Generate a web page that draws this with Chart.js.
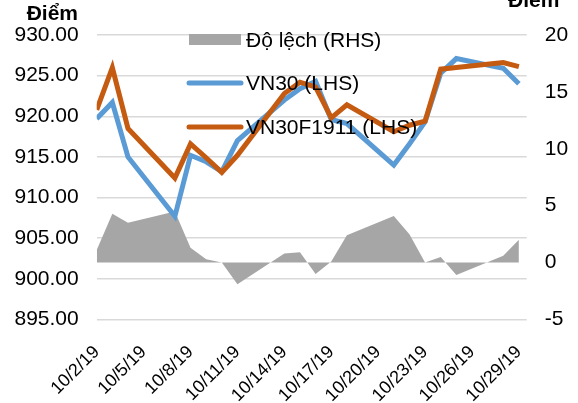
<!DOCTYPE html>
<html>
<head>
<meta charset="utf-8">
<script src="https://cdn.jsdelivr.net/npm/chart.js@4"></script>
<style>
  body { margin: 0; background: #fff; }
  canvas { display: block; }
</style>
</head>
<body>
<canvas id="chart" width="578" height="403"></canvas>
<script>
const dates = ['10/2/19', '10/3/19', '10/4/19', '10/7/19', '10/8/19', '10/9/19', '10/10/19', '10/11/19',
    '10/14/19', '10/15/19', '10/16/19', '10/17/19', '10/18/19', '10/21/19', '10/22/19', '10/23/19',
    '10/24/19', '10/25/19', '10/28/19', '10/29/19'];
const vn30 = [919.7, 921.7, 915.0, 907.7, 915.2, 914.4, 913.2, 917.0, 922.0, 923.4,
    924.3, 919.6, 919.1, 914.0, 916.6, 919.3, 925.3, 927.1, 925.9, 924.0];
const vn30f1911 = [920.8, 926.0, 918.5, 912.4, 916.6, 914.9, 913.1, 915.2, 922.8, 924.2,
    923.6, 919.8, 921.4, 918.1, 918.9, 919.4, 925.8, 926.0, 926.6, 926.1];
const doLech = [1.1, 4.3, 3.5, 4.5, 1.3, 0.3, 0.0, -1.9, 0.8, 0.9,
    -1.0, 0.1, 2.4, 4.1, 2.5, 0.0, 0.5, -1.1, 0.6, 2.0];
const tickLabels = ['10/2/19', '10/5/19', '10/8/19', '10/11/19', '10/14/19', '10/17/19',
    '10/20/19', '10/23/19', '10/26/19', '10/29/19'];

const day = s => parseInt(s.split('/')[1], 10);
const pts = arr => arr.map((v, i) => ({ x: day(dates[i]), y: v }));

const FONT = '"Liberation Sans", Arial, sans-serif';
Chart.defaults.font.family = FONT;
Chart.defaults.font.size = 21;
Chart.defaults.color = '#000';

const overlay = {
    id: 'overlay',
    afterDatasetsDraw(chart) {
        const ctx = chart.ctx;
        ctx.save();
        ctx.font = 'bold 21px ' + FONT;
        ctx.fillStyle = '#000';
        ctx.textBaseline = 'alphabetic';
        ctx.textAlign = 'right';
        ctx.fillText('Điểm', 78, 20);
        ctx.textAlign = 'left';
        ctx.fillText('Điểm', 508, 7);

        // legend: Độ lệch, VN30, VN30F1911
        const ds = chart.data.datasets;
        const rows = [40, 83, 127];
        const order = [2, 1, 0];
        ctx.font = '21px ' + FONT;
        ctx.textBaseline = 'middle';
        order.forEach((di, r) => {
            const d = ds[di];
            const y = rows[r];
            if (d.fill) {
                ctx.fillStyle = d.backgroundColor;
                ctx.fillRect(189, y - 6, 52, 11);
            } else {
                ctx.strokeStyle = d.borderColor;
                ctx.lineWidth = 5;
                ctx.lineCap = 'round';
                ctx.beginPath();
                ctx.moveTo(189, y);
                ctx.lineTo(241, y);
                ctx.stroke();
            }
            ctx.fillStyle = '#000';
            ctx.fillText(d.label, 246, y + 1);
        });
        ctx.restore();
    }
};

new Chart(document.getElementById('chart'), {
    type: 'line',
    data: {
        datasets: [
            {
                label: 'VN30F1911 (LHS)',
                data: pts(vn30f1911),
                borderColor: '#c55a11',
                borderWidth: 5,
                pointRadius: 0,
                yAxisID: 'y',
                order: 0
            },
            {
                label: 'VN30 (LHS)',
                data: pts(vn30),
                borderColor: '#5b9bd5',
                borderWidth: 5,
                pointRadius: 0,
                yAxisID: 'y',
                order: 1
            },
            {
                label: 'Độ lệch (RHS)',
                data: pts(doLech),
                borderWidth: 0,
                borderColor: 'rgba(0,0,0,0)',
                backgroundColor: '#a6a6a6',
                fill: 'origin',
                pointRadius: 0,
                yAxisID: 'y1',
                order: 2
            }
        ]
    },
    options: {
        responsive: false,
        animation: false,
        layout: { padding: { top: 35, left: 0, right: 0, bottom: 0 } },
        plugins: { legend: { display: false }, tooltip: { enabled: false } },
        scales: {
            x: {
                type: 'linear',
                min: 2,
                max: 29.5,
                afterBuildTicks: axis => { axis.ticks = tickLabels.map(t => ({ value: day(t) })); },
                ticks: {
                    callback: v => '10/' + v + '/19',
                    font: { size: 18 },
                    minRotation: 45,
                    maxRotation: 45,
                    padding: 22,
                    autoSkip: false
                },
                grid: { display: false, drawTicks: false },
                border: { display: false },
                afterFit: axis => { axis.height = 83.5; }
            },
            y: {
                position: 'left',
                min: 895,
                max: 930,
                ticks: { stepSize: 5, padding: 18, callback: v => v.toFixed(2) },
                grid: { color: '#d9d9d9', lineWidth: 1.5, drawTicks: false },
                border: { display: false },
                afterFit: axis => { axis.width = 96.7; }
            },
            y1: {
                position: 'right',
                min: -5,
                max: 20,
                ticks: { stepSize: 5, padding: 18 },
                grid: { display: false, drawTicks: false },
                border: { display: false },
                afterFit: axis => { axis.width = 51.3; }
            }
        }
    },
    plugins: [overlay]
});
</script>
</body>
</html>
